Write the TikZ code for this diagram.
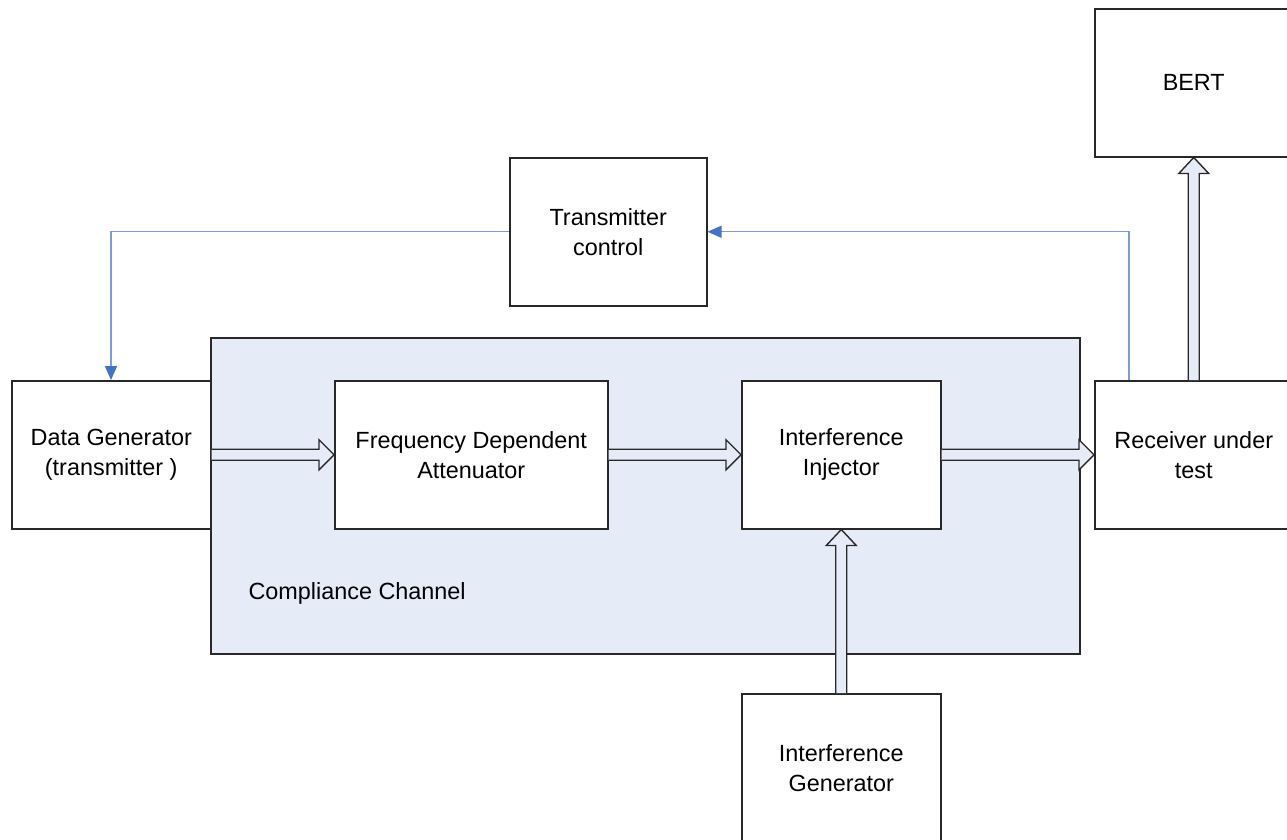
\documentclass[tikz,border=0pt]{standalone}
\usepackage{fontspec}
\setmainfont{Liberation Sans}
\usetikzlibrary{calc,arrows.meta}
\definecolor{chfill}{RGB}{230,236,247}
\definecolor{edge}{RGB}{40,40,40}
\definecolor{ctl}{RGB}{125,155,212}
\definecolor{ctlhead}{RGB}{68,114,196}
\tikzset{
  box/.style={draw=edge,line width=1.5pt,fill=white,inner sep=0pt,align=center,
    font=\fontsize{23.4}{30}\selectfont},
  blk/.style={draw=edge,line width=1.4pt,fill=chfill,line join=miter},
  ctlline/.style={draw=ctl,line width=1.4pt,-{Triangle[length=14pt,width=12pt,fill=ctlhead,color=ctlhead]}},
}
\newcommand\hblock[2]{\draw[blk] ($(#1)+(0,-5.5)$) -- ($(#2)+(-15,-5.5)$) -- ($(#2)+(-15,-15)$) -- (#2) -- ($(#2)+(-15,15)$) -- ($(#2)+(-15,5.5)$) -- ($(#1)+(0,5.5)$);}
\newcommand\vblock[2]{\draw[blk] ($(#1)+(-5.5,0)$) -- ($(#2)+(-5.5,16)$) -- ($(#2)+(-15,16)$) -- (#2) -- ($(#2)+(15,16)$) -- ($(#2)+(5.5,16)$) -- ($(#1)+(5.5,0)$);}
\begin{document}
\begin{tikzpicture}[x=1pt,y=-1pt]
\useasboundingbox (0,0) rectangle (1287,839);
\clip (0,0) rectangle (1287,839);
% compliance channel
\node[box,fill=chfill,minimum width=869pt,minimum height=316pt,anchor=north west] (cc) at (210,337) {};
\node[anchor=west,font=\fontsize{23.4}{30}\selectfont] (cclabel) at (245,593) {Compliance Channel};
% boxes
\node[box,minimum width=198pt,minimum height=148pt,anchor=north west] (bert) at (1094,8) {BERT};
\node[box,minimum width=197pt,minimum height=148pt,anchor=north west] (tc) at (509,157) {Transmitter\\control};
\node[box,minimum width=199pt,minimum height=148pt,anchor=north west] (dg) at (11,380) {Data Generator\\(transmitter )};
\node[box,minimum width=273pt,minimum height=148pt,anchor=north west] (fda) at (334,380) {Frequency Dependent\\Attenuator};
\node[box,minimum width=199pt,minimum height=148pt,anchor=north west] (ii) at (741,380) {Interference\\Injector};
\node[box,minimum width=198pt,minimum height=148pt,anchor=north west] (rx) at (1094,380) {Receiver under\\test};
\node[box,minimum width=199pt,minimum height=148pt,anchor=north west] (ig) at (741,693) {Interference\\Generator};
% block arrows
\hblock{dg.east}{fda.west}
\hblock{fda.east}{ii.west}
\hblock{ii.east}{rx.west}
\vblock{ig.north}{ii.south}
\vblock{rx.north}{bert.south}
% control lines
\coordinate (rxtop) at ($(rx.north west)+(35,0)$);
\coordinate (dgtop) at ($(dg.north west)+(100,0)$);
\draw[ctlline] (rxtop) |- (tc.east);
\draw[ctlline] (tc.west) -| (dgtop);
\end{tikzpicture}
\end{document}
